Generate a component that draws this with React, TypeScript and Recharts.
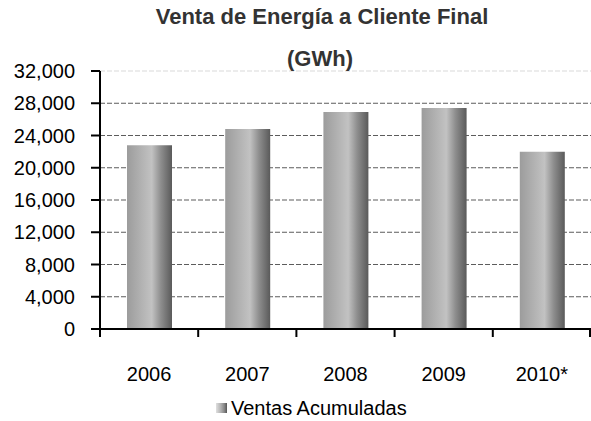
import React from "react";
import { BarChart, Bar, XAxis, YAxis, CartesianGrid, ReferenceLine, Legend } from "recharts";

const categories = ["2006", "2007", "2008", "2009", "2010*"];
const ventas = [22800, 24800, 26900, 27400, 22000];
const yTicks = [0, 4000, 8000, 12000, 16000, 20000, 24000, 28000, 32000];
const gridValues = [4000, 8000, 12000, 16000, 20000, 24000, 28000];
const seriesName = "Ventas Acumuladas";
const titleLine1 = "Venta de Energía a Cliente Final";
const titleLine2 = "(GWh)";

const data = categories.map((c, i) => ({ year: c, value: ventas[i] }));

const FONT = "'Liberation Sans', Arial, sans-serif";
const W = 591;
const H = 421;

const XTick = (props: any) => {
  const { x, y, payload, index } = props;
  const off = payload && typeof payload.offset === "number" ? payload.offset : 49;
  const axisY = y - 7;
  const isLast = index === categories.length - 1;
  return (
    <g>
      <line x1={x - off} x2={x - off} y1={axisY} y2={axisY + 8} stroke="#000" strokeWidth={2} />
      {isLast && (
        <line x1={x + off - 1} x2={x + off - 1} y1={axisY} y2={axisY + 8} stroke="#000" strokeWidth={2} />
      )}
      <text x={x} y={y + 31} dy="0.71em" textAnchor="middle" fontSize={20} fontFamily={FONT} fill="#000">
        {payload.value}
      </text>
    </g>
  );
};

const LegendContent = (props: any) => {
  const item = props.payload && props.payload[0];
  const label = item ? item.value : seriesName;
  return (
    <div style={{ position: "relative", width: W, height: 26 }}>
      <div
        style={{
          position: "absolute",
          left: 216,
          top: 8,
          width: 11,
          height: 10,
          background: "linear-gradient(to right, #e0e0e0 0%, #b0b0b0 45%, #888 75%, #555 100%)",
        }}
      />
      <span
        style={{
          position: "absolute",
          left: 231,
          top: 0,
          fontSize: 20,
          lineHeight: "26px",
          fontFamily: FONT,
          color: "#000",
          whiteSpace: "nowrap",
        }}
      >
        {label}
      </span>
    </div>
  );
};

export default function App() {
  return (
    <div style={{ position: "absolute", left: 0, top: 0, width: W, height: H, background: "#fff" }}>
      <BarChart
        width={W}
        height={H}
        data={data}
        margin={{ top: 71, right: 0, bottom: 0, left: 0 }}
        barSize={45}
      >
        <defs>
          <linearGradient id="barGrad" x1="0" y1="0" x2="1" y2="0">
            <stop offset="0%" stopColor="#9c9c9c" />
            <stop offset="55%" stopColor="#c2c2c2" />
            <stop offset="75%" stopColor="#8e8e8e" />
            <stop offset="100%" stopColor="#5a5a5a" />
          </linearGradient>
        </defs>
        <CartesianGrid
          vertical={false}
          horizontalValues={gridValues}
          stroke="#5c5c5c"
          strokeWidth={1.2}
          strokeDasharray="5 2"
        />
        <ReferenceLine y={32000} stroke="#d9d9d9" strokeDasharray="5 2" />
        <XAxis
          dataKey="year"
          axisLine={{ stroke: "#000", strokeWidth: 2 }}
          tickLine={false}
          tickSize={7}
          tickMargin={0}
          height={66}
          interval={0}
          tick={<XTick />}
        />
        <YAxis
          domain={[0, 32000]}
          ticks={yTicks}
          interval={0}
          width={100}
          axisLine={{ stroke: "#000", strokeWidth: 2 }}
          tickLine={{ stroke: "#000", strokeWidth: 2 }}
          tickSize={9}
          tickMargin={16}
          tick={{ fontSize: 20, fontFamily: FONT, fill: "#000" }}
          tickFormatter={(v: number) => v.toLocaleString("en-US")}
        />
        <Legend verticalAlign="bottom" height={26} content={<LegendContent />} wrapperStyle={{ left: 0, width: W }} />
        <Bar dataKey="value" name={seriesName} fill="url(#barGrad)" isAnimationActive={false} />
      </BarChart>
      <svg
        width={W}
        height={80}
        style={{ position: "absolute", left: 0, top: 0, pointerEvents: "none", overflow: "visible" }}
      >
        <text x={322} y={24} textAnchor="middle" fontSize={22} fontWeight="bold" fontFamily={FONT} fill="#333">
          {titleLine1}
        </text>
        <text x={320} y={66} textAnchor="middle" fontSize={22} fontWeight="bold" fontFamily={FONT} fill="#333">
          {titleLine2}
        </text>
      </svg>
    </div>
  );
}
